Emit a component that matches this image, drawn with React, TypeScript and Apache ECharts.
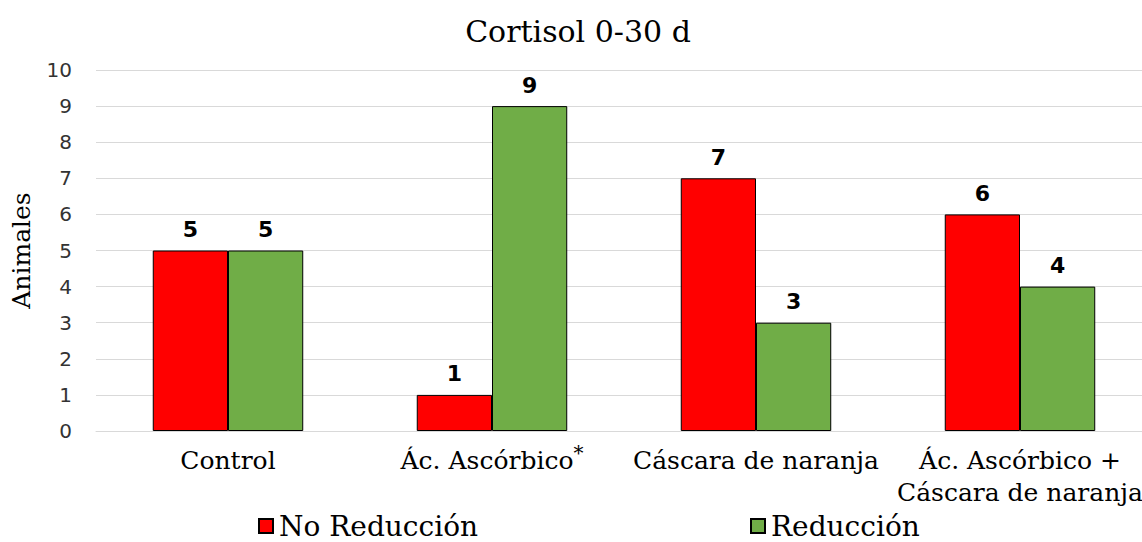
import React, { useEffect, useRef } from "react";
import * as echarts from "echarts";

const categories = ["Control", "Ác. Ascórbico*", "Cáscara de naranja", "Ác. Ascórbico +\nCáscara de naranja"];
const noReduccion = [5, 1, 7, 6];
const reduccion = [5, 9, 3, 4];
const seriesNames = ["No Reducción", "Reducción"];
const titleText = "Cortisol 0-30 d";
const yAxisName = "Animales";

const SERIF = "'DejaVu Serif', 'Liberation Serif', serif";
const SANS = "'DejaVu Sans', Verdana, sans-serif";

export default function App() {
  const ref = useRef<HTMLDivElement>(null);
  useEffect(() => {
    const chart = echarts.init(ref.current!, null, { renderer: "svg" });
    const labelCfg = {
      show: true,
      position: "top",
      distance: 10,
      color: "#000",
      fontFamily: SANS,
      fontWeight: "bold",
      fontSize: 22,
    };
    const legendText = {
      fontFamily: SERIF,
      fontSize: 28,
      lineHeight: 26,
      color: "#000",
      padding: [0, 0, 0, 1],
    };
    chart.setOption({
      animation: false,
      backgroundColor: "#fff",
      title: {
        text: titleText,
        left: 573,
        textAlign: "center",
        top: 11,
        textStyle: { fontFamily: SERIF, fontWeight: "normal", fontSize: 30, color: "#000" },
      },
      legend: [
        {
          data: [seriesNames[0]],
          left: 258,
          top: 512,
          padding: 0,
          icon: "rect",
          itemWidth: 14,
          itemHeight: 14,
          itemGap: 6,
          textStyle: legendText,
        },
        {
          data: [seriesNames[1]],
          left: 750,
          top: 512,
          padding: 0,
          icon: "rect",
          itemWidth: 14,
          itemHeight: 14,
          itemGap: 6,
          textStyle: legendText,
        },
      ],
      grid: { left: 96, top: 70, right: 8, bottom: 111, containLabel: false },
      xAxis: {
        type: "category",
        data: categories,
        axisLine: { show: true, lineStyle: { color: "#d9d9d9", width: 1 } },
        axisTick: { show: false },
        axisLabel: {
          interval: 0,
          margin: 13,
          fontFamily: SERIF,
          fontSize: 25,
          color: "#000",
          lineHeight: 32,
          formatter: (v: string) => {
            if (v.endsWith("*")) return v.slice(0, -1) + "{sup|*}";
            return v;
          },
          rich: {
            sup: { fontFamily: SERIF, fontSize: 20, color: "#000", padding: [0, 0, 14, 0] },
          },
        },
      },
      yAxis: {
        type: "value",
        min: 0,
        max: 10,
        interval: 1,
        name: yAxisName,
        nameLocation: "middle",
        nameGap: 62,
        nameTextStyle: { fontFamily: SERIF, fontSize: 25, color: "#000" },
        axisLine: { show: false },
        axisTick: { show: false },
        axisLabel: { fontFamily: SANS, fontSize: 20, color: "#333", margin: 24 },
        splitLine: { lineStyle: { color: "#d9d9d9", width: 1 } },
      },
      series: [
        {
          name: seriesNames[0],
          type: "bar",
          data: noReduccion,
          barGap: "0%",
          barCategoryGap: "43%",
          itemStyle: { color: "#FF0000", borderColor: "#000", borderWidth: 1 },
          label: labelCfg,
        },
        {
          name: seriesNames[1],
          type: "bar",
          data: reduccion,
          itemStyle: { color: "#70AD47", borderColor: "#000", borderWidth: 1 },
          label: labelCfg,
        },
      ],
    });
    return () => chart.dispose();
  }, []);
  return (
    <div style={{ position: "absolute", left: 0, top: 0, width: 1142, height: 542, overflow: "hidden" }}>
      <div ref={ref} style={{ width: 1160, height: 542 }} />
    </div>
  );
}
